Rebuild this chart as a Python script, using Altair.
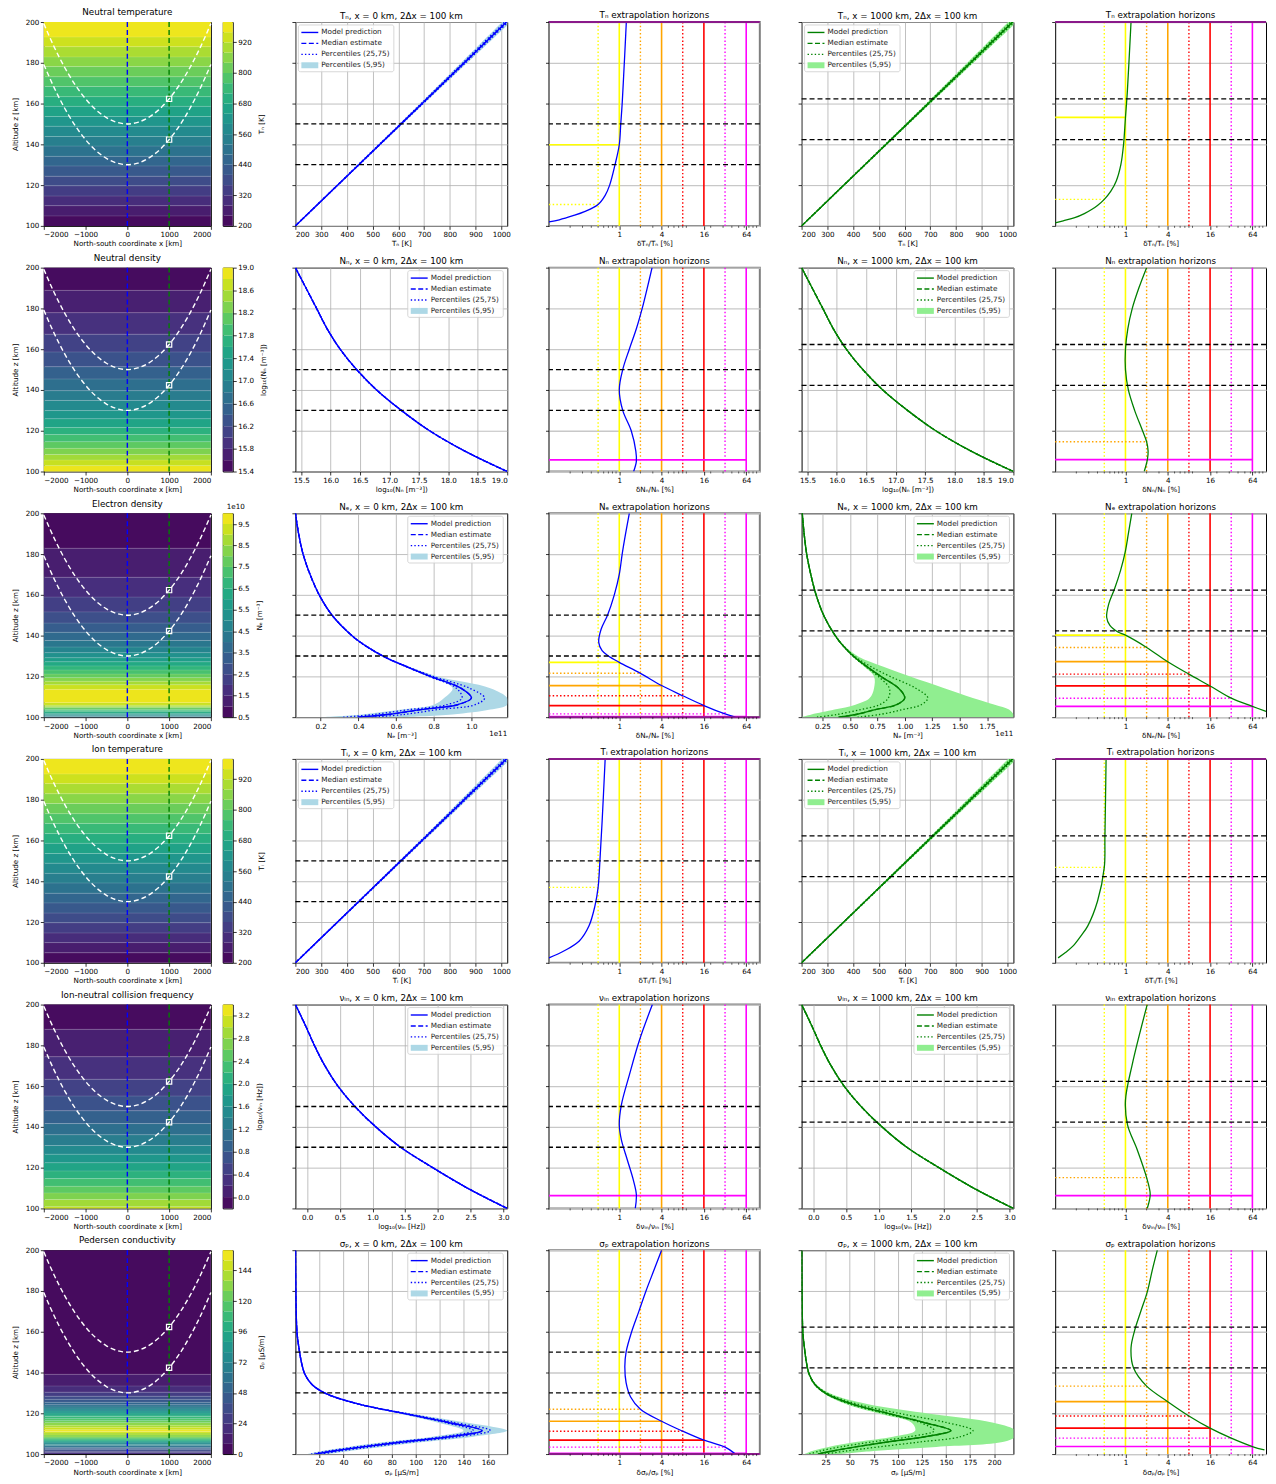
import altair as alt
import numpy as np
import pandas as pd

FONT = "DejaVu Sans"
BLUE, GREEN = "#0000ff", "#008000"
LBLUE, LGREEN = "#add8e6", "#90ee90"

# ---------------- heat-map overlay geometry ----------------
PARAB_X = [-2000, -1750, -1500, -1250, -1000, -750, -500, -250, 0, 250, 500, 750, 1000, 1250, 1500, 1750, 2000]
PARAB_UPPER = [199.2, 187.7, 177.7, 169.2, 162.3, 156.9, 153.1, 150.8, 150.0, 150.8, 153.1, 156.9, 162.3, 169.2, 177.7, 187.7, 199.2]
PARAB_LOWER = [179.2, 167.7, 157.7, 149.2, 142.3, 136.9, 133.1, 130.8, 130.0, 130.8, 133.1, 136.9, 142.3, 149.2, 157.7, 167.7, 179.2]
MARK_X = [1000, 1000]
MARK_Z = [162.3, 142.3]
REF_Z_X0 = [150.0, 130.0]
REF_Z_X1 = [162.3, 142.3]

THRESH = [0.5, 1, 2, 4, 8, 16, 32, 64]
THRESH_COLOR = ["#ffff00", "#ffff00", "#ffa500", "#ffa500", "#ff0000", "#ff0000", "#ff00ff", "#ff00ff"]
THRESH_SOLID = [0, 1, 0, 1, 0, 1, 0, 1]
LOG_MINOR = [0.2, 0.3, 0.4, 0.5, 0.6, 0.7, 0.8, 0.9, 2, 3, 5, 6, 7, 8, 9, 20, 30, 40, 50, 60, 70, 80, 90]

# ---------------- temperature profiles (Tn and Ti) [K] ----------------
T_ALT = [100, 125, 150, 175, 200]
T_MODEL = [200, 405, 610, 815, 1020]
T_P05 = [199, 402, 604, 804, 1003]
T_P95 = [201, 408, 616, 826, 1037]
T_P25 = [199.5, 403.5, 607, 810, 1013]
T_P75 = [200.5, 406.5, 613, 820, 1027]

# ---------------- neutral density log10 [m^-3] ----------------
NN_ALT = [100, 110, 120, 130, 140, 150, 160, 170, 180, 190, 200]
NN_MODEL = [19.0, 18.28, 17.68, 17.2, 16.78, 16.44, 16.16, 15.94, 15.76, 15.58, 15.4]

# ---------------- collision frequency log10 [Hz] ----------------
NU_ALT = [100, 110, 120, 130, 140, 150, 160, 170, 180, 190, 200]
NU_MODEL = [3.06, 2.45, 1.92, 1.43, 1.05, 0.73, 0.47, 0.27, 0.11, -0.03, -0.18]

# ---------------- electron density [1e11 m^-3] ----------------
NE_ALT = [100, 101.3, 103.7, 106.1, 109.4, 114.2, 119.9, 124.8, 129.6, 134.6, 139.6, 149.5, 159.5, 169.7, 179.8, 190, 200]
NE_MODEL = [0.397, 0.556, 0.732, 0.926, 1.0, 0.944, 0.785, 0.655, 0.538, 0.445, 0.371, 0.265, 0.195, 0.145, 0.107, 0.083, 0.066]
NE0_P05 = [0.20, 0.42, 0.63, 0.80, 0.855, 0.90, 0.77, 0.648, 0.535, 0.443, 0.370, 0.264, 0.194, 0.145, 0.107, 0.083, 0.066]
NE0_P95 = [0.63, 0.90, 1.10, 1.19, 1.19, 1.10, 0.82, 0.665, 0.542, 0.447, 0.372, 0.266, 0.196, 0.145, 0.107, 0.083, 0.066]
NE0_P25 = [0.32, 0.48, 0.67, 0.87, 0.95, 0.92, 0.778, 0.652, 0.537, 0.444, 0.371, 0.265, 0.195, 0.145, 0.107, 0.083, 0.066]
NE0_P75 = [0.47, 0.64, 0.82, 1.02, 1.07, 0.99, 0.80, 0.66, 0.540, 0.446, 0.371, 0.265, 0.195, 0.145, 0.107, 0.083, 0.066]
NE1_P05 = [0.06, 0.15, 0.36, 0.55, 0.68, 0.72, 0.72, 0.63, 0.53, 0.443, 0.369, 0.264, 0.194, 0.145, 0.107, 0.083, 0.066]
NE1_P95 = [1.99, 1.99, 1.95, 1.82, 1.62, 1.36, 1.05, 0.80, 0.58, 0.457, 0.377, 0.267, 0.196, 0.146, 0.107, 0.083, 0.066]
NE1_P25 = [0.20, 0.38, 0.60, 0.77, 0.85, 0.86, 0.76, 0.645, 0.533, 0.443, 0.370, 0.265, 0.195, 0.145, 0.107, 0.083, 0.066]
NE1_P75 = [0.57, 0.77, 0.98, 1.15, 1.21, 1.10, 0.87, 0.69, 0.55, 0.448, 0.373, 0.266, 0.195, 0.145, 0.107, 0.083, 0.066]

# ---------------- Pedersen conductivity [uS/m] ----------------
SP_ALT = [100, 101.5, 103.5, 106, 108.5, 111.5, 115.5, 119.7, 124.6, 129.5, 134, 139, 145, 150, 158.5, 170, 185, 200]
SP_MODEL = [17, 32, 56, 90, 128, 155, 127, 92, 52, 26, 14, 8, 5, 3.5, 1.5, 0.6, 0.2, 0.05]
SP0_P05 = [10, 22, 44, 76, 114, 140, 118, 88, 50, 25.5, 13.8, 8, 5, 3.5, 1.5, 0.6, 0.2, 0.05]
SP0_P95 = [27, 45, 72, 108, 148, 176, 142, 98, 54, 26.5, 14.2, 8, 5, 3.5, 1.5, 0.6, 0.2, 0.05]
SP0_P25 = [13, 27, 50, 84, 122, 148, 124, 91, 51.5, 25.8, 14, 8, 5, 3.5, 1.5, 0.6, 0.2, 0.05]
SP0_P75 = [21, 38, 63, 97, 136, 162, 132, 94, 52.5, 26.2, 14, 8, 5, 3.5, 1.5, 0.6, 0.2, 0.05]
SP1_P05 = [3, 11, 28, 58, 95, 118, 114, 82, 46, 24, 13.5, 7.8, 5, 3.5, 1.5, 0.6, 0.2, 0.05]
SP1_P95 = [40, 75, 140, 210, 222, 222, 198, 135, 68, 31, 15.5, 8.5, 5.2, 3.6, 1.5, 0.6, 0.2, 0.05]
SP1_P25 = [8, 19, 40, 74, 112, 138, 123, 88, 49.5, 25.5, 13.8, 8, 5, 3.5, 1.5, 0.6, 0.2, 0.05]
SP1_P75 = [24, 46, 80, 124, 165, 178, 150, 104, 57, 28, 14.5, 8.2, 5, 3.5, 1.5, 0.6, 0.2, 0.05]

# ---------------- extrapolation-horizon curves [%] ----------------
TN_H0_ALT = [102, 103, 105, 107, 110.5, 115, 120, 130, 139.8, 150, 160, 170, 180, 190, 200]
TN_H0_VAL = [0.1, 0.14, 0.22, 0.32, 0.5, 0.63, 0.73, 0.87, 1.0, 1.05, 1.1, 1.14, 1.18, 1.22, 1.26]
TN_H1_ALT = [101.5, 102.5, 104, 106, 108, 110, 113, 117, 122, 130, 140, 153.2, 165, 180, 200]
TN_H1_VAL = [0.1, 0.13, 0.19, 0.26, 0.33, 0.4, 0.5, 0.62, 0.74, 0.86, 0.94, 1.0, 1.06, 1.12, 1.2]
NN_H0_ALT = [100, 105, 110, 120, 130, 140, 150, 160, 170, 180, 190, 200]
NN_H0_VAL = [1.6, 1.75, 1.72, 1.48, 1.12, 1.0, 1.12, 1.39, 1.75, 2.12, 2.5, 2.93]
NN_H1_ALT = [100, 105.8, 110, 114.6, 120, 130, 140, 150, 160, 170, 180, 190, 200]
NN_H1_VAL = [1.85, 2.05, 2.1, 2.0, 1.75, 1.35, 1.1, 1.0, 1.0, 1.08, 1.25, 1.55, 2.0]
NE_H0_ALT = [100, 101.6, 105.7, 110.5, 115.5, 121.5, 126.9, 130, 132.6, 136.7, 143, 150, 160, 170, 180, 190, 200]
NE_H0_VAL = [45, 32, 16, 8, 4, 2, 1.0, 0.7, 0.57, 0.51, 0.55, 0.68, 0.85, 1.0, 1.1, 1.23, 1.39]
NE_H1_ALT = [102.8, 105.3, 109.3, 115.3, 121.1, 127.2, 134.2, 140.2, 141.8, 145, 149, 155.7, 163, 171.9, 181.6, 190, 200]
NE_H1_VAL = [100, 64, 32, 16, 8, 4, 2, 1.0, 0.78, 0.6, 0.54, 0.58, 0.7, 0.85, 1.0, 1.1, 1.23]
TI_H0_ALT = [102.4, 105.9, 110.7, 118, 127.8, 137, 149.8, 169.3, 200]
TI_H0_VAL = [0.1, 0.165, 0.27, 0.37, 0.45, 0.5, 0.53, 0.57, 0.63]
TI_H1_ALT = [102.4, 105, 108.3, 113, 118, 130.2, 146.8, 161, 180, 200]
TI_H1_VAL = [0.11, 0.14, 0.18, 0.23, 0.29, 0.4, 0.5, 0.51, 0.52, 0.53]
NU_H0_ALT = [100, 106.8, 114.1, 123.9, 133.7, 141, 150.7, 165.4, 182.4, 200]
NU_H0_VAL = [1.69, 1.75, 1.58, 1.3, 1.07, 1.0, 1.07, 1.39, 1.93, 2.96]
NU_H1_ALT = [100, 106.8, 115.1, 128.8, 141, 153, 170.7, 200]
NU_H1_VAL = [2.04, 2.25, 2.0, 1.47, 1.07, 1.0, 1.25, 2.04]
SP_H0_ALT = [100, 103.4, 106.8, 111.2, 116.1, 122, 128, 135, 143, 150, 160, 170, 180, 190, 200]
SP_H0_VAL = [45, 32, 16, 8, 4, 2, 1.45, 1.25, 1.2, 1.25, 1.5, 1.9, 2.4, 3.1, 4.0]
SP_H1_ALT = [102, 103.7, 107.8, 112.7, 118.7, 125.7, 133.3, 142.3, 152, 160.2, 169.9, 179.7, 190, 200]
SP_H1_VAL = [95, 64, 32, 16, 8, 4, 2, 1.3, 1.2, 1.34, 1.65, 2.05, 2.4, 2.84]

# horizon markers (threshold, altitude)
HZ_TN0 = ([0.5, 1], [110.5, 139.8])
HZ_TN1 = ([0.5, 1], [113.0, 153.2])
HZ_NN0 = ([64], [105.7])
HZ_NN1 = ([2, 64], [114.6, 105.8])
HZ_NE0 = ([1, 2, 4, 8, 16, 32, 64], [126.9, 121.5, 115.5, 110.5, 105.7, 101.6, 100.3])
HZ_NE1 = ([1, 2, 4, 8, 16, 32, 64], [140.2, 134.2, 127.2, 121.1, 115.3, 109.3, 105.3])
HZ_TI0 = ([0.5], [137.0])
HZ_TI1 = ([0.5], [146.8])
HZ_NU0 = ([64], [106.3])
HZ_NU1 = ([2, 64], [115.1, 106.3])
HZ_SP0 = ([2, 4, 8, 16, 32, 64], [122.0, 116.1, 111.2, 106.8, 103.4, 100.3])
HZ_SP1 = ([2, 4, 8, 16, 32, 64], [133.3, 125.7, 118.7, 112.7, 107.8, 103.7])

# ---------------- layout ----------------
H = 205
W_HEAT, W_CB, W_PROF, W_HOR = 168, 10, 213, 212
Y_TICKS = [100, 120, 140, 160, 180, 200]
YSC = alt.Scale(domain=[100, 200], nice=False, zero=False)
AX = dict(labelFont=FONT, titleFont=FONT, labelFontSize=7.2, titleFontSize=7.2,
          tickSize=3.5, labelPadding=1.5, titlePadding=2, domain=False,
          tickColor="#000000", labelColor="#000000", titleColor="#000000",
          tickWidth=0.8, titleFontWeight="normal")
LEG_LABELS = ["Model prediction", "Median estimate", "Percentiles (25,75)", "Percentiles (5,95)"]
ONE = pd.DataFrame({"k": [0]})


def title(t):
    return alt.TitleParams(t, font=FONT, fontSize=8.8, fontWeight="normal", offset=1, color="#000000")


def heat_bands(z_pts, v_pts, lo, hi, nb):
    zz = np.arange(100.0, 200.0001, 0.25)
    vv = np.interp(zz, z_pts, v_pts)
    step = (hi - lo) / nb
    idx = np.clip(np.floor((vv - lo) / step), 0, nb - 1).astype(int)
    rows = []
    start = 100.0
    for k in range(1, len(zz)):
        if idx[k] != idx[k - 1]:
            zb = 0.5 * (zz[k - 1] + zz[k])
            rows.append((start, zb, lo + (idx[k - 1] + 0.5) * step))
            start = zb
    rows.append((start, 200.0, lo + (idx[-1] + 0.5) * step))
    d = pd.DataFrame(rows, columns=["z0", "z1", "v"])
    d["x0"] = -2000
    d["x1"] = 2000
    return d


def heat_panel(name, z_pts, v_pts, lo, hi, nb):
    xs = alt.Scale(domain=[-2000, 2000], nice=False, zero=False)
    xax = alt.Axis(values=[-2000, -1000, 0, 1000, 2000], format="d",
                   title="North-south coordinate x [km]", grid=False, **AX)
    yax = alt.Axis(values=Y_TICKS, title="Altitude z [km]", grid=False, **{**AX, "titlePadding": 6})
    X = lambda f: alt.X(f"{f}:Q", scale=xs, axis=xax)
    Y = lambda f: alt.Y(f"{f}:Q", scale=YSC, axis=yax)
    d = heat_bands(z_pts, v_pts, lo, hi, nb)
    cs = alt.Scale(scheme="viridis", domain=[lo, hi])
    layers = [
        alt.Chart(d).mark_rect().encode(x=X("x0"), x2="x1", y=Y("z0"), y2="z1",
                                        color=alt.Color("v:Q", scale=cs, legend=None)),
        alt.Chart(pd.DataFrame({"z": list(d["z1"][:-1])})).mark_rule(
            color="white", opacity=0.25, strokeWidth=0.6).encode(y=Y("z")),
        alt.Chart(pd.DataFrame({"x": [0]})).mark_rule(color=BLUE, strokeDash=[5, 3], strokeWidth=1.4).encode(x=X("x")),
        alt.Chart(pd.DataFrame({"x": [1000]})).mark_rule(color=GREEN, strokeDash=[5, 3], strokeWidth=1.4).encode(x=X("x")),
    ]
    pd_par = pd.DataFrame({"x": PARAB_X * 2, "z": PARAB_UPPER + PARAB_LOWER,
                           "k": ["u"] * len(PARAB_X) + ["l"] * len(PARAB_X)})
    layers.append(alt.Chart(pd_par).mark_line(color="white", strokeDash=[5, 3], strokeWidth=1.4,
                                              interpolate="monotone").encode(
        x=X("x"), y=Y("z"), detail="k:N", order="x:Q"))
    layers.append(alt.Chart(pd.DataFrame({"x": MARK_X, "z": MARK_Z})).mark_point(
        shape="square", filled=False, color="white", size=28, strokeWidth=1.2, opacity=1).encode(x=X("x"), y=Y("z")))
    return alt.layer(*layers).properties(width=W_HEAT, height=H, title=title(name))


def cbar_panel(lo, hi, nb, ticks, fmt, label, offset=None):
    step = (hi - lo) / nb
    lev = [lo + k * step for k in range(nb)]
    d = pd.DataFrame({"l0": lev, "l1": [l + step for l in lev], "a": 0, "b": 1})
    d["v"] = d["l0"] + step / 2
    ys = alt.Scale(domain=[lo, hi], nice=False, zero=False)
    yax = alt.Axis(orient="right", values=ticks, format=fmt, title=label, grid=False,
                   titleAngle=270, titleBaseline="top", **{**AX, "titlePadding": 6})
    layers = [alt.Chart(d).mark_rect().encode(
        x=alt.X("a:Q", scale=alt.Scale(domain=[0, 1]), axis=None), x2="b:Q",
        y=alt.Y("l0:Q", scale=ys, axis=yax), y2="l1:Q",
        color=alt.Color("v:Q", scale=alt.Scale(scheme="viridis", domain=[lo, hi]), legend=None))]
    if offset:
        layers.append(alt.Chart(ONE).mark_text(text=offset, align="left", baseline="bottom", font=FONT,
                                               fontSize=7.2, color="#000000").encode(
            x=alt.value(4), y=alt.value(-2)))
    return alt.layer(*layers).properties(width=W_CB, height=H)


def spacer(w):
    return alt.Chart(ONE).mark_point(opacity=0).encode(
        x=alt.X("k:Q", axis=None), y=alt.Y("k:Q", axis=None)).properties(
        width=w, height=H, view=alt.ViewBackground(stroke="transparent"))


def legend_layers(W, side, color, fill):
    bw, bh = 96, 47
    x0 = 3 if side == "left" else W - 4 - bw
    y0 = 3
    out = [alt.Chart(ONE).mark_rect(fill="white", fillOpacity=0.85, stroke="#cccccc", strokeWidth=0.8,
                                    cornerRadius=2).encode(
        x=alt.value(x0), x2=alt.value(x0 + bw), y=alt.value(y0), y2=alt.value(y0 + bh))]
    for k, lab in enumerate(LEG_LABELS):
        yk = y0 + 7.5 + 11 * k
        if k == 0:
            out.append(alt.Chart(ONE).mark_rule(color=color, strokeWidth=1.4).encode(
                x=alt.value(x0 + 3), x2=alt.value(x0 + 20), y=alt.value(yk)))
        elif k == 1:
            out.append(alt.Chart(ONE).mark_rule(color=color, strokeWidth=1.4, strokeDash=[5, 2.5]).encode(
                x=alt.value(x0 + 3), x2=alt.value(x0 + 20), y=alt.value(yk)))
        elif k == 2:
            out.append(alt.Chart(ONE).mark_rule(color=color, strokeWidth=1.4, strokeDash=[1.4, 2.2]).encode(
                x=alt.value(x0 + 3), x2=alt.value(x0 + 20), y=alt.value(yk)))
        else:
            out.append(alt.Chart(ONE).mark_rect(color=fill).encode(
                x=alt.value(x0 + 3), x2=alt.value(x0 + 20), y=alt.value(yk - 3), y2=alt.value(yk + 3)))
        out.append(alt.Chart(ONE).mark_text(text=lab, align="left", baseline="middle", font=FONT,
                                            fontSize=7.3, color="#222222").encode(
            x=alt.value(x0 + 23), y=alt.value(yk)))
    return out


def profile_panel(name, z, model, p05, p95, p25, p75, xdom, xticks, xfmt, xtitle,
                  color, fill, refz, side, offset=None):
    xs = alt.Scale(domain=xdom, nice=False, zero=False)
    xax = alt.Axis(values=xticks, format=xfmt, title=xtitle, grid=True, gridColor="#b0b0b0",
                   gridWidth=0.8, **AX)
    yax = alt.Axis(values=Y_TICKS, labels=False, title=None, grid=True, gridColor="#b0b0b0",
                   gridWidth=0.8, **AX)
    X = lambda f: alt.X(f"{f}:Q", scale=xs, axis=xax)
    Y = lambda f: alt.Y(f"{f}:Q", scale=YSC, axis=yax)
    band = pd.DataFrame({"z": z, "lo": p05, "hi": p95})
    layers = [alt.Chart(band).mark_area(orient="horizontal", color=fill, clip=True,
                                        interpolate="catmull-rom").encode(x=X("lo"), x2="hi", y=Y("z"))]

    def line(vals, **kw):
        d = pd.DataFrame({"z": z, "v": vals})
        return alt.Chart(d).mark_line(clip=True, color=color, interpolate="catmull-rom", **kw).encode(
            x=X("v"), y=Y("z"), order="z:Q")

    layers.append(line(p25, strokeWidth=1.3, strokeDash=[1.4, 2.2]))
    layers.append(line(p75, strokeWidth=1.3, strokeDash=[1.4, 2.2]))
    layers.append(line(model, strokeWidth=1.4, strokeDash=[5, 2.5]))
    layers.append(line(model, strokeWidth=1.4))
    layers.append(alt.Chart(pd.DataFrame({"z": refz})).mark_rule(
        color="black", strokeDash=[5, 3], strokeWidth=1.3).encode(y=Y("z")))
    layers += legend_layers(W_PROF, side, color, fill)
    if offset:
        layers.append(alt.Chart(ONE).mark_text(text=offset, align="right", baseline="top", font=FONT,
                                               fontSize=7.2, color="#000000").encode(
            x=alt.value(W_PROF), y=alt.value(H + 13)))
    return alt.layer(*layers).properties(width=W_PROF, height=H, title=title(name))


def horizon_panel(name, z, vals, color, hz, refz, xtitle, edge=None, spine="#000000", spw=1):
    xs = alt.Scale(type="log", domain=[0.1, 100], nice=False)
    xax = alt.Axis(values=[1, 4, 16, 64], format="~g", title=xtitle, grid=False, **AX)
    yax = alt.Axis(values=Y_TICKS, labels=False, title=None, grid=True, gridColor="#c8c8c8",
                   gridWidth=1.3, **AX)
    X = lambda f: alt.X(f"{f}:Q", scale=xs, axis=xax)
    Y = lambda f: alt.Y(f"{f}:Q", scale=YSC, axis=yax)
    thr = pd.DataFrame({"t": THRESH, "c": THRESH_COLOR, "s": THRESH_SOLID})
    layers = [
        alt.Chart(thr[thr.s == 1]).mark_rule(strokeWidth=1.6).encode(
            x=X("t"), color=alt.Color("c:N", scale=None)),
        alt.Chart(thr[thr.s == 0]).mark_rule(strokeWidth=1.4, strokeDash=[1.5, 2.2]).encode(
            x=X("t"), color=alt.Color("c:N", scale=None)),
    ]
    ht, hzz = hz
    hd = pd.DataFrame({"t": ht, "z": hzz})
    hd["x0"] = 0.1
    hd["c"] = [THRESH_COLOR[THRESH.index(t)] for t in ht]
    hd["s"] = [THRESH_SOLID[THRESH.index(t)] for t in ht]
    if (hd.s == 0).any():
        layers.append(alt.Chart(hd[hd.s == 0]).mark_rule(strokeWidth=1.4, strokeDash=[1.5, 2.2]).encode(
            x=X("x0"), x2="t", y=Y("z"), color=alt.Color("c:N", scale=None)))
    if (hd.s == 1).any():
        layers.append(alt.Chart(hd[hd.s == 1]).mark_rule(strokeWidth=1.7).encode(
            x=X("x0"), x2="t", y=Y("z"), color=alt.Color("c:N", scale=None)))
    cd = pd.DataFrame({"z": z, "v": vals})
    layers.append(alt.Chart(cd).mark_line(clip=True, color=color, strokeWidth=1.3,
                                          interpolate="catmull-rom").encode(x=X("v"), y=Y("z"), order="z:Q"))
    layers.append(alt.Chart(pd.DataFrame({"z": refz})).mark_rule(
        color="black", strokeDash=[5, 3], strokeWidth=1.3).encode(y=Y("z")))
    if edge is not None:
        layers.append(alt.Chart(pd.DataFrame({"z": [edge]})).mark_rule(
            color="#8a1a8a", strokeWidth=2).encode(y=Y("z")))
    layers.append(alt.Chart(pd.DataFrame({"t": LOG_MINOR})).mark_rule(color="black", strokeWidth=0.6).encode(
        x=X("t"), y=alt.value(H), y2=alt.value(H + 2)))
    return alt.layer(*layers).properties(width=W_HOR, height=H, title=title(name),
                                         view=alt.ViewBackground(stroke=spine, strokeWidth=spw))


def row(heat, cbar, p0, h0, p1, h1):
    # column gap is 12 px; spacers widen the other gaps to the reference's spacing
    return [heat, cbar, spacer(39), p0, spacer(18), h0, spacer(18), p1, spacer(18), h1]


GRAY = "#7f7f7f"
T_TICKS = [200, 300, 400, 500, 600, 700, 800, 900, 1000]

r1 = row(
    heat_panel("Neutral temperature", T_ALT, T_MODEL, 200, 1000, 20),
    cbar_panel(200, 1000, 20, [200, 320, 440, 560, 680, 800, 920], "d", "Tₙ [K]"),
    profile_panel("Tₙ, x = 0 km, 2Δx = 100 km", T_ALT, T_MODEL, T_P05, T_P95, T_P25, T_P75,
                  [200, 1023], T_TICKS, "d", "Tₙ [K]", BLUE, LBLUE, REF_Z_X0, "left"),
    horizon_panel("Tₙ extrapolation horizons", TN_H0_ALT, TN_H0_VAL, BLUE, HZ_TN0, REF_Z_X0,
                  "δTₙ/Tₙ [%]", edge=200, spine=GRAY, spw=2),
    profile_panel("Tₙ, x = 1000 km, 2Δx = 100 km", T_ALT, T_MODEL, T_P05, T_P95, T_P25, T_P75,
                  [200, 1023], T_TICKS, "d", "Tₙ [K]", GREEN, LGREEN, REF_Z_X1, "left"),
    horizon_panel("Tₙ extrapolation horizons", TN_H1_ALT, TN_H1_VAL, GREEN, HZ_TN1, REF_Z_X1,
                  "δTₙ/Tₙ [%]", edge=200),
)

NN_TICKS = [15.5, 16.0, 16.5, 17.0, 17.5, 18.0, 18.5, 19.0]
r2 = row(
    heat_panel("Neutral density", NN_ALT, NN_MODEL, 15.4, 19.0, 18),
    cbar_panel(15.4, 19.0, 18, [15.4, 15.8, 16.2, 16.6, 17.0, 17.4, 17.8, 18.2, 18.6, 19.0], ".1f",
               "log₁₀(Nₙ [m⁻³])"),
    profile_panel("Nₙ, x = 0 km, 2Δx = 100 km", NN_ALT, NN_MODEL, NN_MODEL, NN_MODEL, NN_MODEL, NN_MODEL,
                  [15.4, 19.0], NN_TICKS, ".1f", "log₁₀(Nₙ [m⁻³])", BLUE, LBLUE, REF_Z_X0, "right"),
    horizon_panel("Nₙ extrapolation horizons", NN_H0_ALT, NN_H0_VAL, BLUE, HZ_NN0, REF_Z_X0,
                  "δNₙ/Nₙ [%]", spine=GRAY, spw=2),
    profile_panel("Nₙ, x = 1000 km, 2Δx = 100 km", NN_ALT, NN_MODEL, NN_MODEL, NN_MODEL, NN_MODEL, NN_MODEL,
                  [15.4, 19.0], NN_TICKS, ".1f", "log₁₀(Nₙ [m⁻³])", GREEN, LGREEN, REF_Z_X1, "right"),
    horizon_panel("Nₙ extrapolation horizons", NN_H1_ALT, NN_H1_VAL, GREEN, HZ_NN1, REF_Z_X1,
                  "δNₙ/Nₙ [%]"),
)

r3 = row(
    heat_panel("Electron density", NE_ALT, [v * 10 for v in NE_MODEL], 0.5, 10.0, 19),
    cbar_panel(0.5, 10.0, 19, [0.5, 1.5, 2.5, 3.5, 4.5, 5.5, 6.5, 7.5, 8.5, 9.5], ".1f", "Nₑ [m⁻³]",
               offset="1e10"),
    profile_panel("Nₑ, x = 0 km, 2Δx = 100 km", NE_ALT, NE_MODEL, NE0_P05, NE0_P95, NE0_P25, NE0_P75,
                  [0.066, 1.19], [0.2, 0.4, 0.6, 0.8, 1.0], ".1f", "Nₑ [m⁻³]", BLUE, LBLUE, REF_Z_X0,
                  "right", offset="1e11"),
    horizon_panel("Nₑ extrapolation horizons", NE_H0_ALT, NE_H0_VAL, BLUE, HZ_NE0, REF_Z_X0,
                  "δNₑ/Nₑ [%]", edge=100, spine=GRAY, spw=2),
    profile_panel("Nₑ, x = 1000 km, 2Δx = 100 km", NE_ALT, NE_MODEL, NE1_P05, NE1_P95, NE1_P25, NE1_P75,
                  [0.06, 1.99], [0.25, 0.5, 0.75, 1.0, 1.25, 1.5, 1.75], ".2f", "Nₑ [m⁻³]", GREEN, LGREEN,
                  REF_Z_X1, "right", offset="1e11"),
    horizon_panel("Nₑ extrapolation horizons", NE_H1_ALT, NE_H1_VAL, GREEN, HZ_NE1, REF_Z_X1,
                  "δNₑ/Nₑ [%]"),
)

r4 = row(
    heat_panel("Ion temperature", T_ALT, T_MODEL, 200, 1000, 20),
    cbar_panel(200, 1000, 20, [200, 320, 440, 560, 680, 800, 920], "d", "Tᵢ [K]"),
    profile_panel("Tᵢ, x = 0 km, 2Δx = 100 km", T_ALT, T_MODEL, T_P05, T_P95, T_P25, T_P75,
                  [200, 1023], T_TICKS, "d", "Tᵢ [K]", BLUE, LBLUE, REF_Z_X0, "left"),
    horizon_panel("Tᵢ extrapolation horizons", TI_H0_ALT, TI_H0_VAL, BLUE, HZ_TI0, REF_Z_X0,
                  "δTᵢ/Tᵢ [%]", edge=200, spine=GRAY, spw=2),
    profile_panel("Tᵢ, x = 1000 km, 2Δx = 100 km", T_ALT, T_MODEL, T_P05, T_P95, T_P25, T_P75,
                  [200, 1023], T_TICKS, "d", "Tᵢ [K]", GREEN, LGREEN, REF_Z_X1, "left"),
    horizon_panel("Tᵢ extrapolation horizons", TI_H1_ALT, TI_H1_VAL, GREEN, HZ_TI1, REF_Z_X1,
                  "δTᵢ/Tᵢ [%]", edge=200),
)

NU_TICKS = [0.0, 0.5, 1.0, 1.5, 2.0, 2.5, 3.0]
r5 = row(
    heat_panel("Ion-neutral collision frequency", NU_ALT, NU_MODEL, -0.2, 3.4, 18),
    cbar_panel(-0.2, 3.4, 18, [0.0, 0.4, 0.8, 1.2, 1.6, 2.0, 2.4, 2.8, 3.2], ".1f", "log₁₀(νᵢₙ [Hz])"),
    profile_panel("νᵢₙ, x = 0 km, 2Δx = 100 km", NU_ALT, NU_MODEL, NU_MODEL, NU_MODEL, NU_MODEL, NU_MODEL,
                  [-0.18, 3.06], NU_TICKS, ".1f", "log₁₀(νᵢₙ [Hz])", BLUE, LBLUE, REF_Z_X0, "right"),
    horizon_panel("νᵢₙ extrapolation horizons", NU_H0_ALT, NU_H0_VAL, BLUE, HZ_NU0, REF_Z_X0,
                  "δνᵢₙ/νᵢₙ [%]", spine=GRAY, spw=2),
    profile_panel("νᵢₙ, x = 1000 km, 2Δx = 100 km", NU_ALT, NU_MODEL, NU_MODEL, NU_MODEL, NU_MODEL, NU_MODEL,
                  [-0.18, 3.06], NU_TICKS, ".1f", "log₁₀(νᵢₙ [Hz])", GREEN, LGREEN, REF_Z_X1, "right"),
    horizon_panel("νᵢₙ extrapolation horizons", NU_H1_ALT, NU_H1_VAL, GREEN, HZ_NU1, REF_Z_X1,
                  "δνᵢₙ/νᵢₙ [%]"),
)

r6 = row(
    heat_panel("Pedersen conductivity", SP_ALT, SP_MODEL, 0, 160, 20),
    cbar_panel(0, 160, 20, [0, 24, 48, 72, 96, 120, 144], "d", "σₚ [μS/m]"),
    profile_panel("σₚ, x = 0 km, 2Δx = 100 km", SP_ALT, SP_MODEL, SP0_P05, SP0_P95, SP0_P25, SP0_P75,
                  [0, 176], [20, 40, 60, 80, 100, 120, 140, 160], "d", "σₚ [μS/m]", BLUE, LBLUE,
                  REF_Z_X0, "right"),
    horizon_panel("σₚ extrapolation horizons", SP_H0_ALT, SP_H0_VAL, BLUE, HZ_SP0, REF_Z_X0,
                  "δσₚ/σₚ [%]", edge=100, spine=GRAY, spw=2),
    profile_panel("σₚ, x = 1000 km, 2Δx = 100 km", SP_ALT, SP_MODEL, SP1_P05, SP1_P95, SP1_P25, SP1_P75,
                  [0, 220], [25, 50, 75, 100, 125, 150, 175, 200], "d", "σₚ [μS/m]", GREEN, LGREEN,
                  REF_Z_X1, "right"),
    horizon_panel("σₚ extrapolation horizons", SP_H1_ALT, SP_H1_VAL, GREEN, HZ_SP1, REF_Z_X1,
                  "δσₚ/σₚ [%]"),
)

chart = alt.concat(*(r1 + r2 + r3 + r4 + r5 + r6), columns=10,
                   spacing=alt.RowColnumber(row=42, column=12),
                   bounds="flush", align="each").resolve_scale(
    color="independent").properties(
    padding={"left": 2, "top": -5, "right": 0, "bottom": 0}, background="white"
).configure(font=FONT).configure_view(stroke="#000000", strokeWidth=1)

chart.save("out.html", embed_options={"renderer": "svg", "actions": False})
